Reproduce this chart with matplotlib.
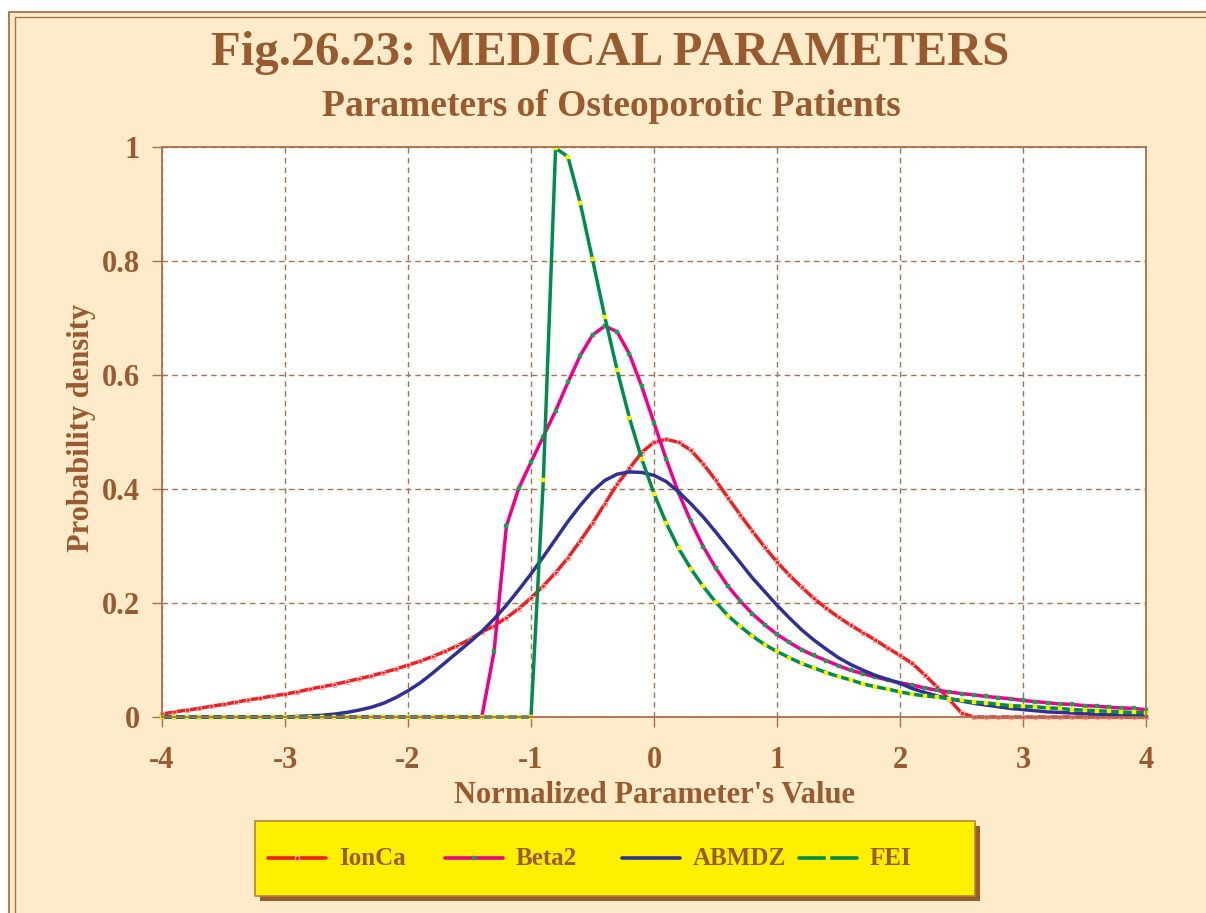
import numpy as np
import matplotlib
matplotlib.use("Agg")
import matplotlib.pyplot as plt
from matplotlib.patches import Rectangle
from matplotlib.lines import Line2D

# ---------------- data ----------------
x_values = np.round(np.arange(-40, 41) / 10.0, 1)

ionca = [0.005, 0.009, 0.012, 0.015, 0.019, 0.022, 0.026, 0.030, 0.033, 0.037,
         0.040, 0.044, 0.049, 0.053, 0.057, 0.062, 0.067, 0.072, 0.078, 0.084,
         0.091, 0.098, 0.106, 0.115, 0.125, 0.136, 0.149, 0.160, 0.174, 0.190,
         0.209, 0.230, 0.253, 0.279, 0.309, 0.340, 0.374, 0.408, 0.436, 0.464,
         0.482, 0.487, 0.482, 0.468, 0.444, 0.416, 0.385, 0.355, 0.326, 0.298,
         0.272, 0.249, 0.228, 0.208, 0.191, 0.175, 0.161, 0.148, 0.135, 0.121,
         0.108, 0.094, 0.074, 0.053, 0.031, 0.007] + [0.0] * 15

beta2 = [0.0] * 27 + [
         0.115, 0.335, 0.401, 0.447, 0.492, 0.537, 0.587, 0.634, 0.670, 0.686,
         0.676, 0.637, 0.580, 0.516, 0.452, 0.393, 0.343, 0.299, 0.262, 0.230,
         0.204, 0.181, 0.162, 0.145, 0.131, 0.118, 0.108, 0.099, 0.090, 0.082,
         0.076, 0.070, 0.065, 0.060, 0.056, 0.051, 0.047, 0.044, 0.041, 0.039,
         0.036, 0.034, 0.032, 0.029, 0.027, 0.025, 0.023, 0.022, 0.020, 0.019,
         0.017, 0.016, 0.015, 0.013]

abmdz = [0.0] * 11 + [
         0.001, 0.002, 0.003, 0.005, 0.008, 0.012, 0.017, 0.024, 0.034, 0.046,
         0.060, 0.077, 0.095, 0.113, 0.131, 0.150, 0.172, 0.196, 0.223, 0.251,
         0.281, 0.312, 0.343, 0.371, 0.396, 0.415, 0.426, 0.430, 0.429, 0.424,
         0.413, 0.395, 0.374, 0.351, 0.325, 0.298, 0.271, 0.244, 0.220, 0.196,
         0.174, 0.153, 0.135, 0.119, 0.104, 0.092, 0.082, 0.073, 0.066, 0.059,
         0.050, 0.043, 0.037, 0.032, 0.028, 0.024, 0.021, 0.018, 0.015, 0.013,
         0.011, 0.009, 0.008, 0.007, 0.006, 0.005, 0.004, 0.0035, 0.003, 0.0025]

fei = [0.0] * 31 + [
         0.415, 0.998, 0.983, 0.902, 0.803, 0.702, 0.609, 0.525, 0.453, 0.392,
         0.340, 0.296, 0.260, 0.229, 0.202, 0.178, 0.159, 0.142, 0.127, 0.115,
         0.104, 0.094, 0.086, 0.078, 0.071, 0.065, 0.058, 0.053, 0.049, 0.044,
         0.040, 0.037, 0.035, 0.032, 0.029, 0.026, 0.025, 0.022, 0.020, 0.019,
         0.018, 0.016, 0.015, 0.013, 0.012, 0.011, 0.010, 0.009, 0.008, 0.0075]

series_names = ["IonCa", "Beta2", "ABMDZ", "FEI"]
x_ticks = [-4, -3, -2, -1, 0, 1, 2, 3, 4]
x_tick_labels = ["-4", "-3", "-2", "-1", "0", "1", "2", "3", "4"]
y_ticks = [0, 0.2, 0.4, 0.6, 0.8, 1]
y_tick_labels = ["0", "0.2", "0.4", "0.6", "0.8", "1"]

# ---------------- style ----------------
plt.rcParams["font.family"] = ["Liberation Serif", "DejaVu Serif"]
plt.rcParams["axes.unicode_minus"] = False

BROWN = "#9A5A30"
GRID = "#A8714C"
CREAM = "#FDEBC9"
line_styles = [
    dict(color="#EE2024", marker="s", markersize=2.6, markerfacecolor="none",
         markeredgecolor="#F9A3A3", markeredgewidth=0.8),
    dict(color="#EC008C", marker="s", markersize=2.4, markerfacecolor="#1E9E5A",
         markeredgecolor="#1E9E5A", markeredgewidth=0.3),
    dict(color="#2E3192", marker=None),
    dict(color="#008C4B", marker="s", markersize=2.4, markerfacecolor="#F5F000",
         markeredgecolor="#F5F000", markeredgewidth=0.3),
]

W, H = 1206, 913
fig = plt.figure(figsize=(W / 100, H / 100), dpi=100, facecolor="white")


def px_rect(x0, y0, x1, y1):
    """Convert a pixel box (top-left origin) to a figure-fraction rect."""
    return (x0 / W, 1 - y1 / H, (x1 - x0) / W, (y1 - y0) / H)


def fx(px):
    return px / W


def fy(py):
    return 1 - py / H


# cream panel with a double brown frame
l, b, w, h = px_rect(9, 12, W + 20, H + 20)
fig.patches.append(Rectangle((l, b), w, h, transform=fig.transFigure,
                             facecolor=CREAM, edgecolor=GRID, linewidth=1.3, zorder=0))
l, b, w, h = px_rect(15, 17, W + 20, H + 20)
fig.patches.append(Rectangle((l, b), w, h, transform=fig.transFigure,
                             facecolor="none", edgecolor=GRID, linewidth=1.0, zorder=0))

# plot area
ax = fig.add_axes(px_rect(162, 147, 1146, 717))
ax.set_zorder(3)
ax.set_facecolor("white")

all_values = [ionca, beta2, abmdz, fei]
for name, vals, st in zip(series_names, all_values, line_styles):
    ax.plot(x_values, vals, linewidth=2.5, label=name, clip_on=False,
            solid_joinstyle="round", **st)

ax.set_xlim(-4, 4)
ax.set_ylim(0, 1)
ax.set_xticks(x_ticks)
ax.set_xticklabels(x_tick_labels)
ax.set_yticks(y_ticks)
ax.set_yticklabels(y_tick_labels)

ax.grid(True, color=GRID, linestyle=(0, (4, 3)), linewidth=1.0)
ax.set_axisbelow(True)
for sp in ax.spines.values():
    sp.set_color(GRID)
    sp.set_linewidth(1.3)

ax.tick_params(axis="both", colors=GRID, length=7, width=1.0, direction="out",
               labelcolor=BROWN, labelsize=22)
ax.tick_params(axis="x", pad=14)
ax.tick_params(axis="y", pad=9)
for lab in ax.get_xticklabels() + ax.get_yticklabels():
    lab.set_fontweight("bold")

ax.set_xlabel("Normalized Parameter's Value", fontsize=22, fontweight="bold",
              color=BROWN)
ax.xaxis.set_label_coords(0.5, -(795 - 717) / 570, transform=ax.transAxes)
ax.xaxis.label.set_va("center")
ax.set_ylabel("Probability density", fontsize=22, fontweight="bold", color=BROWN)
ax.yaxis.set_label_coords(-(162 - 82) / 984, (717 - 428) / 570, transform=ax.transAxes)
ax.yaxis.label.set_va("center")

# titles
fig.text(fx(610), fy(53), "Fig.26.23: MEDICAL PARAMETERS", ha="center", va="center",
         fontsize=35, fontweight="bold", color=BROWN)
fig.text(fx(611), fy(106), "Parameters of Osteoporotic Patients", ha="center",
         va="center", fontsize=27, fontweight="bold", color=BROWN)

# legend box with drop shadow
l, b, w, h = px_rect(260, 826, 980, 901)
fig.patches.append(Rectangle((l, b), w, h, transform=fig.transFigure,
                             facecolor="#9A5B33", edgecolor="none", zorder=1))
l, b, w, h = px_rect(255, 821, 975, 896)
fig.patches.append(Rectangle((l, b), w, h, transform=fig.transFigure,
                             facecolor="#FFF000", edgecolor="#B8862E", linewidth=1.2,
                             zorder=2))

# legend entries laid out in equal-width columns
col_x0 = 268
col_w = 177
key_len = 58
leg_y = 858
for i, (name, st) in enumerate(zip(series_names, line_styles)):
    x0 = col_x0 + i * col_w
    fig.add_artist(Line2D([fx(x0), fx(x0 + key_len)], [fy(leg_y), fy(leg_y)],
                          transform=fig.transFigure, linewidth=2.6,
                          solid_capstyle="round", zorder=6, color=st["color"]))
    if st.get("marker"):
        fig.add_artist(Line2D([fx(x0 + key_len / 2)], [fy(leg_y)],
                              transform=fig.transFigure, linestyle="none",
                              zorder=7, **st))
    fig.text(fx(x0 + 71), fy(leg_y), name, ha="left", va="center", fontsize=18,
             fontweight="bold", color=BROWN, zorder=7)

fig.savefig("out.png", dpi=100, facecolor=fig.get_facecolor())
